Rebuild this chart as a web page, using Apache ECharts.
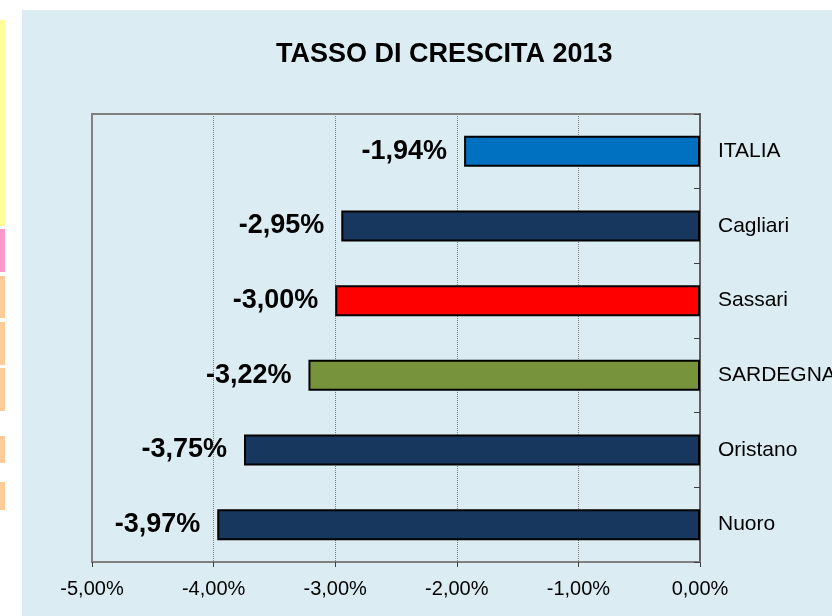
<!DOCTYPE html>
<html>
<head>
<meta charset="utf-8">
<script src="https://cdn.jsdelivr.net/npm/echarts@6/dist/echarts.min.js"></script>
<style>
    html, body { margin: 0; padding: 0; background: #ffffff; }
    #chart { width: 834px; height: 616px; }
</style>
</head>
<body>
<div id="chart"></div>
<script>
// dati
var categorie = ['ITALIA', 'Cagliari', 'Sassari', 'SARDEGNA', 'Oristano', 'Nuoro'];
var valori = [-1.94, -2.95, -3.00, -3.22, -3.75, -3.97];
var coloriBarre = ['#0070C0', '#17375E', '#FF0000', '#77933C', '#17375E', '#17375E'];
var titolo = 'TASSO DI CRESCITA 2013';

(function () {
    var myChart = echarts.init(document.getElementById('chart'));
    var font = 'Arial, "Liberation Sans", sans-serif';

    function pct(v) {
        return v.toFixed(2).replace('.', ',') + '%';
    }

    var dati = valori.map(function (v, i) {
        return { value: v, itemStyle: { color: coloriBarre[i] } };
    });

    // strisce colorate sul bordo sinistro
    var strisce = [
        [20, 226, '#FFFF99'], [229, 272, '#FF99CC'], [276, 318, '#FFCC99'],
        [322, 365, '#FFCC99'], [368, 411, '#FFCC99'], [436, 463, '#FFCC99'],
        [482, 510, '#FFCC99']
    ];
    var grafici = [{
        type: 'rect', z: -10,
        shape: { x: 22, y: 10, width: 810, height: 606 },
        style: { fill: '#DBEDF3' }
    }, {
        // taglia l'etichetta SARDEGNA al bordo del riquadro
        type: 'rect', z: 100,
        shape: { x: 832, y: 0, width: 2, height: 616 },
        style: { fill: '#ffffff' }
    }];
    strisce.forEach(function (s) {
        grafici.push({
            type: 'rect', z: -10,
            shape: { x: 0, y: s[0], width: 5, height: s[1] - s[0] },
            style: { fill: s[2] }
        });
    });

    var option = {
        animation: false,
        backgroundColor: '#ffffff',
        graphic: grafici,
        title: {
            text: titolo,
            left: 271,
            top: 36,
            textStyle: { fontFamily: font, fontSize: 27, fontWeight: 'bold', color: '#000' }
        },
        grid: {
            left: 92,
            right: 134,
            top: 114,
            bottom: 54,
            outerBoundsMode: 'none',
            containLabel: false,
            show: true,
            backgroundColor: 'transparent',
            borderColor: '#808080',
            borderWidth: 2
        },
        xAxis: {
            type: 'value',
            min: -5,
            max: 0,
            interval: 1,
            axisLine: { show: true, lineStyle: { color: '#808080', width: 2 } },
            axisTick: { show: true, length: 5, lineStyle: { color: '#404040' } },
            axisLabel: {
                margin: 17,
                color: '#000',
                fontFamily: font,
                fontSize: 20,
                formatter: function (v) { return pct(v); }
            },
            splitLine: {
                show: true,
                lineStyle: { color: '#808080', type: 'dotted', width: 1 }
            }
        },
        yAxis: {
            type: 'category',
            data: categorie,
            inverse: true,
            position: 'right',
            axisLine: { show: true, lineStyle: { color: '#606060', width: 2 } },
            axisTick: { show: true, inside: true, length: 6, lineStyle: { color: '#404040' } },
            axisLabel: {
                margin: 18,
                color: '#000',
                fontFamily: font,
                fontSize: 21
            },
            splitLine: { show: false }
        },
        series: [{
            type: 'bar',
            data: dati,
            barWidth: 31,
            itemStyle: { borderColor: '#000', borderWidth: 2 },
            label: {
                show: true,
                position: 'left',
                distance: 17,
                color: '#000',
                fontFamily: font,
                fontSize: 27,
                fontWeight: 'bold',
                formatter: function (p) { return pct(p.value); }
            }
        }]
    };
    myChart.setOption(option);
})();
</script>
</body>
</html>
